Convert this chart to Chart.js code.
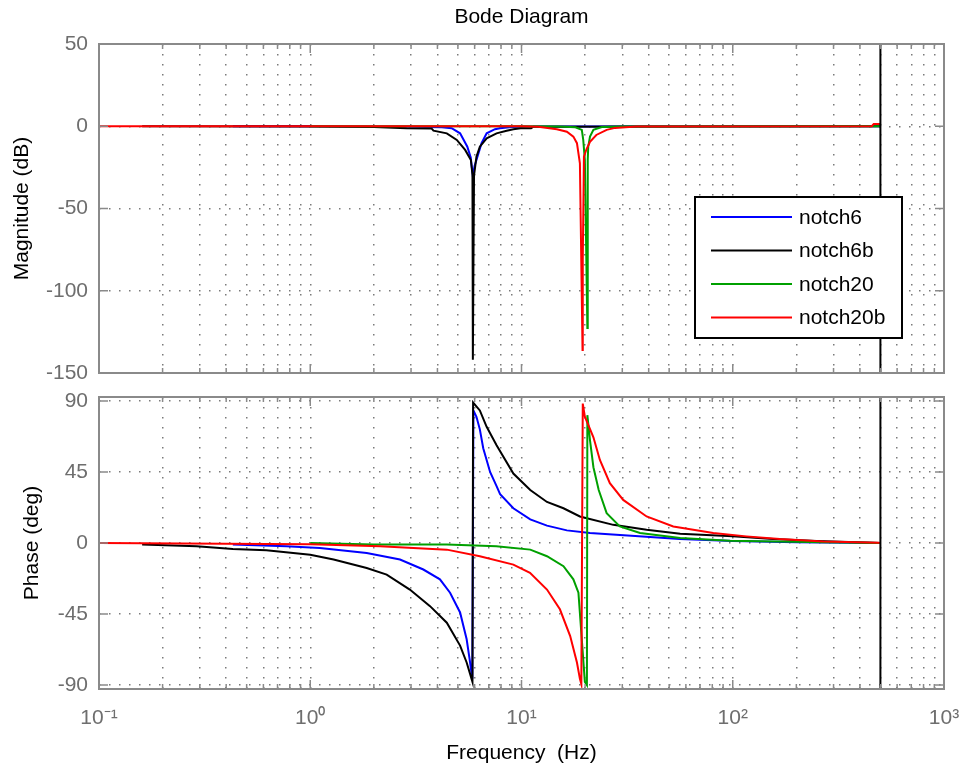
<!DOCTYPE html>
<html>
<head>
<meta charset="utf-8">
<script src="https://cdn.jsdelivr.net/npm/chart.js@4.4.1/dist/chart.umd.min.js"></script>
<style>
html,body{margin:0;padding:0;background:#fff;}
#wrap{position:relative;width:961px;height:767px;overflow:hidden;}
#c1{position:absolute;left:0;top:0;width:961px;height:385px;}
#c2{position:absolute;left:0;top:385px;width:961px;height:382px;}
</style>
</head>
<body>
<div id="wrap">
<canvas id="c1" width="961" height="385"></canvas>
<canvas id="c2" width="961" height="382"></canvas>
</div>
<script>
// ---------------- data ----------------
const SERIES_NAMES  = ['notch6', 'notch6b', 'notch20', 'notch20b'];
const SERIES_COLORS = ['#0000ff', '#000000', '#00a000', '#ff0000'];

const X_DECADES     = [0.1, 1, 10, 100, 1000];
const X_TICK_LABELS = ['10\u207B\u00B9', '10\u2070', '10\u00B9', '10\u00B2', '10\u00B3'];
const MAG_TICKS     = [-150, -100, -50, 0, 50];
const PHASE_TICKS   = [-90, -45, 0, 45, 90];
const NYQUIST_HZ    = 500;

// Magnitude (dB)
const MAG_FREQ_N6   = [0.43, 1, 3, 4.2, 4.67, 5.12, 5.54, 5.75, 5.88, 6.0, 6.12, 6.47, 6.84, 7.49, 7.9, 9, 12, 500];
const MAG_N6        = [0, -0.05, -0.3, -0.6, -1.2, -4.3, -12.4, -19, -30, -24, -20.5, -10.3, -4.3, -1.8, -1.2, -0.4, -0.1, 0];

const MAG_FREQ_N6B  = [0.16, 1, 2, 2.86, 3.75, 3.83, 4.43, 4.94, 5.41, 5.76, 5.86, 5.885, 5.92, 5.96, 6.12, 6.35, 6.84, 7.62, 8.51, 9.15, 9.9, 11.1, 11.4, 500];
const MAG_N6B       = [0, -0.2, -0.4, -1.2, -1.3, -2.7, -4.3, -8.3, -14.4, -20.5, -29.6, -142, -87, -30, -18.5, -12.4, -7.3, -4.3, -2.7, -1.8, -1.2, -1.2, -0.3, 0];

const MAG_FREQ_N20  = [1, 10, 15, 18, 19.3, 19.6, 19.95, 20.5, 20.55, 20.62, 20.7, 21.1, 21.9, 24, 30, 500];
const MAG_N20       = [0, 0, -0.1, -0.6, -2.2, -8.3, -20.5, -122.6, -69, -20, -12.4, -6.3, -2.2, -0.5, -0.1, 0];

const MAG_FREQ_N20B = [0.1, 10, 12, 14.7, 16.4, 17.6, 18.3, 18.7, 18.9, 19.45, 19.5, 19.75, 20.3, 21.1, 22.6, 25.3, 27.7, 35, 455, 465, 500];
const MAG_N20B      = [0, 0, -0.3, -1.8, -3.3, -6.3, -10.3, -18.5, -22.5, -136, -81, -18.5, -14, -9.4, -5.3, -2.2, -1, -0.2, 0, 1.4, 1.4];

// Phase (deg)
const PH_FREQ_N6    = [0.43, 0.77, 1.11, 1.85, 2.66, 3.43, 4.11, 4.59, 5.12, 5.5, 5.68, 5.85, 5.92, 6.12, 6.35, 6.59, 7.1, 7.62, 7.92, 9.15, 11, 13.2, 16.4, 21.1, 39, 56, 100, 200, 500];
const PH_N6         = [-1, -2.1, -3.2, -6.3, -10.5, -16.8, -23, -31.5, -44, -61, -73.6, -86, 84, 80, 72, 60, 45, 36, 31, 22, 15, 11, 8, 6.3, 4, 2.5, 1.2, 0.5, 0];

const PH_FREQ_N6B   = [0.16, 0.29, 0.43, 0.62, 1.0, 1.29, 1.85, 2.3, 2.96, 3.69, 4.43, 5.12, 5.5, 5.86, 5.9, 6.35, 6.84, 7.62, 9.15, 11, 13.2, 15.8, 18.9, 27.2, 39.1, 56.4, 100, 155, 250, 500];
const PH_N6B        = [-1, -2.1, -3.8, -4.6, -7.4, -10.5, -15.8, -20, -29.5, -40, -50.5, -65, -75.7, -88, 89, 84, 73.6, 62, 44, 33.6, 26, 22, 16.8, 11.5, 8.4, 5.9, 4.2, 2.5, 1.2, 0];

const PH_FREQ_N20   = [1.0, 2, 4.43, 7.6, 11, 13.2, 15.8, 17.6, 18.6, 19.95, 20.4, 20.5, 21.1, 21.9, 23.2, 25.3, 29.2, 36.4, 56.4, 97, 268, 500];
const PH_N20        = [0, -1, -1, -2.1, -4.2, -8.4, -14.7, -23, -31.5, -88, -90, 81, 65, 48, 33.6, 18.9, 10.5, 6.3, 3.2, 1.5, 0.5, 0];

const PH_FREQ_N20B  = [0.1, 1, 2.14, 4.43, 6.35, 9.15, 10.97, 13.2, 15.2, 17, 18.3, 18.9, 19.2, 19.5, 19.95, 21.9, 23.5, 26.2, 30.3, 39.1, 52.3, 80.9, 116, 167, 268, 490, 500];
const PH_N20B       = [0, -0.8, -2.1, -4.2, -8.4, -13.7, -18.9, -29.5, -42, -59, -75.7, -86, -89.4, 88.3, 80, 67, 52.6, 37.9, 27.3, 16.8, 10.5, 6.3, 4.2, 2.5, 1, 0.2, 0];

const MAG_SERIES   = [[MAG_FREQ_N6, MAG_N6], [MAG_FREQ_N6B, MAG_N6B], [MAG_FREQ_N20, MAG_N20], [MAG_FREQ_N20B, MAG_N20B]];
const PHASE_SERIES = [[PH_FREQ_N6, PH_N6], [PH_FREQ_N6B, PH_N6B], [PH_FREQ_N20, PH_N20], [PH_FREQ_N20B, PH_N20B]];

// ---------------- chart setup ----------------
const FONT = '"Liberation Sans", Arial, Helvetica, sans-serif';
Chart.defaults.font.family = FONT;

function makeDatasets(series) {
  return series.map(([fx, vy], i) => ({
    label: SERIES_NAMES[i],
    data: fx.map((f, k) => ({x: f, y: vy[k]})),
    borderColor: SERIES_COLORS[i],
    backgroundColor: SERIES_COLORS[i],
    borderWidth: 2,
    pointRadius: 0,
    tension: 0,
    fill: false,
    order: series.length - 1 - i
  }));
}

function isDecade(v) {
  const l = Math.log10(v);
  return Math.abs(l - Math.round(l)) < 1e-9;
}

function buildLogTicks(scale) {
  const ticks = [];
  for (let d = 0; d < X_DECADES.length - 1; d++) {
    for (let m = 1; m < 10; m++) {
      ticks.push({value: +(m * X_DECADES[d]).toPrecision(4), major: m === 1});
    }
  }
  ticks.push({value: X_DECADES[X_DECADES.length - 1], major: true});
  scale.ticks = ticks;
}

const framePlugin = {
  id: 'frame',
  afterDatasetsDraw(chart) {
    const {ctx, chartArea: a, scales: {x, y}} = chart;
    ctx.save();
    // Nyquist frequency line
    const nx = x.getPixelForValue(NYQUIST_HZ);
    ctx.strokeStyle = '#000';
    ctx.lineWidth = 2;
    ctx.beginPath();
    ctx.moveTo(nx, a.top);
    ctx.lineTo(nx, a.bottom);
    ctx.stroke();
    // inner tick marks
    ctx.strokeStyle = '#8a8a8a';
    ctx.lineWidth = 1.5;
    x.ticks.forEach(t => {
      const px = x.getPixelForValue(t.value);
      const len = isDecade(t.value) ? 9 : 5;
      ctx.beginPath();
      ctx.moveTo(px, a.bottom); ctx.lineTo(px, a.bottom - len);
      ctx.moveTo(px, a.top); ctx.lineTo(px, a.top + len);
      ctx.stroke();
    });
    y.ticks.forEach(t => {
      const py = y.getPixelForValue(t.value);
      ctx.beginPath();
      ctx.moveTo(a.left, py); ctx.lineTo(a.left + 9, py);
      ctx.moveTo(a.right, py); ctx.lineTo(a.right - 9, py);
      ctx.stroke();
    });
    // axes box
    ctx.lineWidth = 2;
    ctx.strokeStyle = '#8a8a8a';
    ctx.strokeRect(a.left, a.top, a.right - a.left, a.bottom - a.top);
    ctx.restore();
  }
};

const legendPlugin = {
  id: 'boxLegend',
  afterDraw(chart) {
    const {ctx, chartArea: a} = chart;
    const w = 207, h = 141;
    const left = a.right - 249, top = a.top + 153;
    ctx.save();
    ctx.fillStyle = '#fff';
    ctx.fillRect(left, top, w, h);
    ctx.strokeStyle = '#000';
    ctx.lineWidth = 2;
    ctx.strokeRect(left, top, w, h);
    ctx.font = '21px ' + FONT;
    ctx.textBaseline = 'middle';
    ctx.textAlign = 'left';
    SERIES_NAMES.forEach((name, i) => {
      const yy = top + 20 + i * 33.5;
      ctx.strokeStyle = SERIES_COLORS[i];
      ctx.lineWidth = 2;
      ctx.beginPath();
      ctx.moveTo(left + 16, yy);
      ctx.lineTo(left + 97, yy);
      ctx.stroke();
      ctx.fillStyle = '#000';
      ctx.fillText(name, left + 104, yy + 1);
    });
    ctx.restore();
  }
};

const gridOpts = {color: '#7a7a7a', lineWidth: 1.5, drawTicks: false};
const borderOpts = {display: false, dash: [1.5, 8.5]};
const tickFont = {size: 21, lineHeight: 1};
const TICK_COLOR = '#6e6e6e';

function xScale(showLabels, height) {
  return {
    type: 'logarithmic',
    min: X_DECADES[0],
    max: X_DECADES[X_DECADES.length - 1],
    afterBuildTicks: buildLogTicks,
    afterFit: s => { s.height = height; s.paddingLeft = 0; s.paddingRight = 0; },
    grid: gridOpts,
    border: borderOpts,
    ticks: {
      display: showLabels,
      autoSkip: false,
      maxRotation: 0,
      minRotation: 0,
      padding: 19,
      color: TICK_COLOR,
      font: tickFont,
      callback: (v) => {
        const k = X_DECADES.findIndex(d => Math.abs(d - v) < 1e-9);
        return k >= 0 ? X_TICK_LABELS[k] : '';
      }
    },
    title: showLabels ? {
      display: true, text: 'Frequency  (Hz)', color: '#000',
      font: {size: 21}, padding: {top: 0, bottom: 1}
    } : {display: false}
  };
}

function yScale(ticksArr, min, max, titleText, titlePad) {
  return {
    min: min, max: max,
    afterBuildTicks: s => { s.ticks = ticksArr.map(v => ({value: v})); },
    afterFit: s => { s.width = 99; s.paddingTop = 0; s.paddingBottom = 0; },
    grid: gridOpts, border: borderOpts,
    ticks: {padding: 11, color: TICK_COLOR, font: tickFont},
    title: {display: true, text: titleText, color: '#000', font: {size: 21}, padding: {top: titlePad, bottom: 0}}
  };
}

new Chart(document.getElementById('c1'), {
  type: 'line',
  data: {datasets: makeDatasets(MAG_SERIES)},
  options: {
    responsive: false,
    animation: false,
    events: [],
    layout: {padding: {left: 0, right: 17, top: 0, bottom: 0}},
    plugins: {
      legend: {display: false},
      tooltip: {enabled: false},
      title: {
        display: true, text: 'Bode Diagram', fullSize: false, color: '#000',
        font: {size: 21, weight: 'normal'}, padding: {top: 5, bottom: 13.8}
      }
    },
    scales: {
      x: xScale(false, 12),
      y: yScale(MAG_TICKS, MAG_TICKS[0], MAG_TICKS[MAG_TICKS.length - 1], 'Magnitude (dB)', 10)
    }
  },
  plugins: [framePlugin, legendPlugin]
});

new Chart(document.getElementById('c2'), {
  type: 'line',
  data: {datasets: makeDatasets(PHASE_SERIES)},
  options: {
    responsive: false,
    animation: false,
    events: [],
    layout: {padding: {left: 0, right: 17, top: 12, bottom: 0}},
    plugins: {legend: {display: false}, tooltip: {enabled: false}},
    scales: {
      x: xScale(true, 78),
      y: yScale(PHASE_TICKS, -92.5, 92.5, 'Phase (deg)', 20)
    }
  },
  plugins: [framePlugin]
});
</script>
</body>
</html>
